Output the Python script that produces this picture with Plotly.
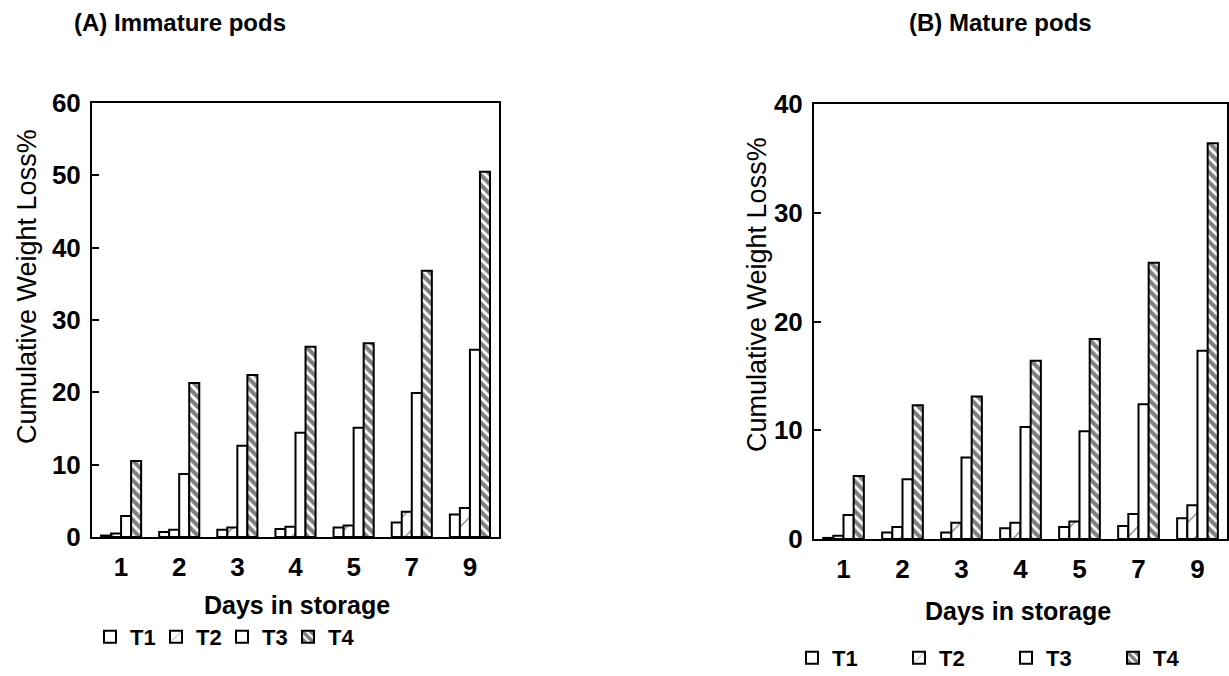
import plotly.graph_objects as go

days = ["1", "2", "3", "4", "5", "7", "9"]
treatments = ["T1", "T2", "T3", "T4"]

# (A) Immature pods - cumulative weight loss %
a_t1 = [0.2, 0.7, 1.0, 1.1, 1.3, 2.0, 3.1]
a_t2 = [0.5, 1.0, 1.3, 1.4, 1.6, 3.5, 4.0]
a_t3 = [2.9, 8.7, 12.6, 14.4, 15.1, 19.9, 25.9]
a_t4 = [10.5, 21.3, 22.4, 26.3, 26.8, 36.8, 50.5]

# (B) Mature pods - cumulative weight loss %
b_t1 = [0.1, 0.6, 0.6, 1.0, 1.1, 1.2, 1.9]
b_t2 = [0.3, 1.1, 1.5, 1.5, 1.6, 2.3, 3.1]
b_t3 = [2.2, 5.5, 7.5, 10.3, 9.9, 12.4, 17.3]
b_t4 = [5.8, 12.3, 13.1, 16.4, 18.4, 25.4, 36.4]

W, H = 1229, 676
FONT = "Liberation Sans, Arial, sans-serif"

patterns = {
    "T1": dict(shape=""),
    "T2": dict(shape="/", size=16, solidity=0.08, fgcolor="black", bgcolor="white"),
    "T3": dict(shape=""),
    "T4": dict(shape="\\", size=7, solidity=0.6, fgcolor="black", bgcolor="white"),
}

fig = go.Figure()

for panel, series, xa, ya, leg in [
    ("A", [a_t1, a_t2, a_t3, a_t4], "x", "y", "legend"),
    ("B", [b_t1, b_t2, b_t3, b_t4], "x2", "y2", "legend2"),
]:
    for name, vals in zip(treatments, series):
        fig.add_trace(go.Bar(
            x=days, y=vals, name=name, xaxis=xa, yaxis=ya, legend=leg,
            marker=dict(color="white", line=dict(color="black", width=2),
                        pattern=patterns[name]),
        ))


def px(x):
    return x / W


def py(y):
    return 1 - y / H


axis_font = dict(family=FONT, size=26, color="black", weight="bold")

common_x = dict(type="category", showline=True, linecolor="black", linewidth=2,
                mirror=True, ticks="", showgrid=False, tickfont=axis_font,
                range=[-0.5, 6.5], zeroline=False, ticklabelstandoff=6)
common_y = dict(showline=True, linecolor="black", linewidth=2, mirror=True,
                ticks="inside", ticklen=7, tickwidth=2, tickcolor="black",
                showgrid=False, zeroline=False, tickfont=axis_font, dtick=10,
                ticklabelstandoff=4)

legend_font = dict(family=FONT, size=22, color="black", weight="bold")

fig.update_layout(
    width=W, height=H,
    margin=dict(l=0, r=0, t=0, b=0, autoexpand=False),
    paper_bgcolor="white", plot_bgcolor="white",
    barmode="group", bargap=0.31, bargroupgap=0,
    font=dict(family=FONT, color="black"),
    xaxis=dict(common_x, domain=[px(92), px(499)], anchor="y"),
    yaxis=dict(common_y, domain=[py(537), py(103)], range=[0, 60], anchor="x"),
    xaxis2=dict(common_x, domain=[px(814), px(1227)], anchor="y2"),
    yaxis2=dict(common_y, domain=[py(539), py(104)], range=[0, 40], anchor="x2"),
    legend=dict(orientation="h", x=px(90), y=py(637), xanchor="left", yanchor="middle",
                font=legend_font, bgcolor="rgba(0,0,0,0)",
                entrywidth=21, entrywidthmode="pixels"),
    legend2=dict(orientation="h", x=px(792), y=py(658), xanchor="left", yanchor="middle",
                 font=legend_font, bgcolor="rgba(0,0,0,0)",
                 entrywidth=62, entrywidthmode="pixels"),
    annotations=[
        dict(text="(A) Immature pods", x=px(180), y=py(22), xref="paper", yref="paper",
             xanchor="center", yanchor="middle", showarrow=False,
             font=dict(family=FONT, size=24, weight="bold")),
        dict(text="(B) Mature pods", x=px(1000), y=py(22), xref="paper", yref="paper",
             xanchor="center", yanchor="middle", showarrow=False,
             font=dict(family=FONT, size=24, weight="bold")),
        dict(text="Cumulative Weight Loss%", x=px(27), y=py(287), xref="paper", yref="paper",
             xanchor="center", yanchor="middle", showarrow=False, textangle=-90,
             font=dict(family=FONT, size=27)),
        dict(text="Cumulative Weight Loss%", x=px(757), y=py(295), xref="paper", yref="paper",
             xanchor="center", yanchor="middle", showarrow=False, textangle=-90,
             font=dict(family=FONT, size=27)),
        dict(text="Days in storage", x=px(297), y=py(605), xref="paper", yref="paper",
             xanchor="center", yanchor="middle", showarrow=False,
             font=dict(family=FONT, size=25, weight="bold")),
        dict(text="Days in storage", x=px(1018), y=py(611), xref="paper", yref="paper",
             xanchor="center", yanchor="middle", showarrow=False,
             font=dict(family=FONT, size=25, weight="bold")),
    ],
)

fig.write_html("out.html")
